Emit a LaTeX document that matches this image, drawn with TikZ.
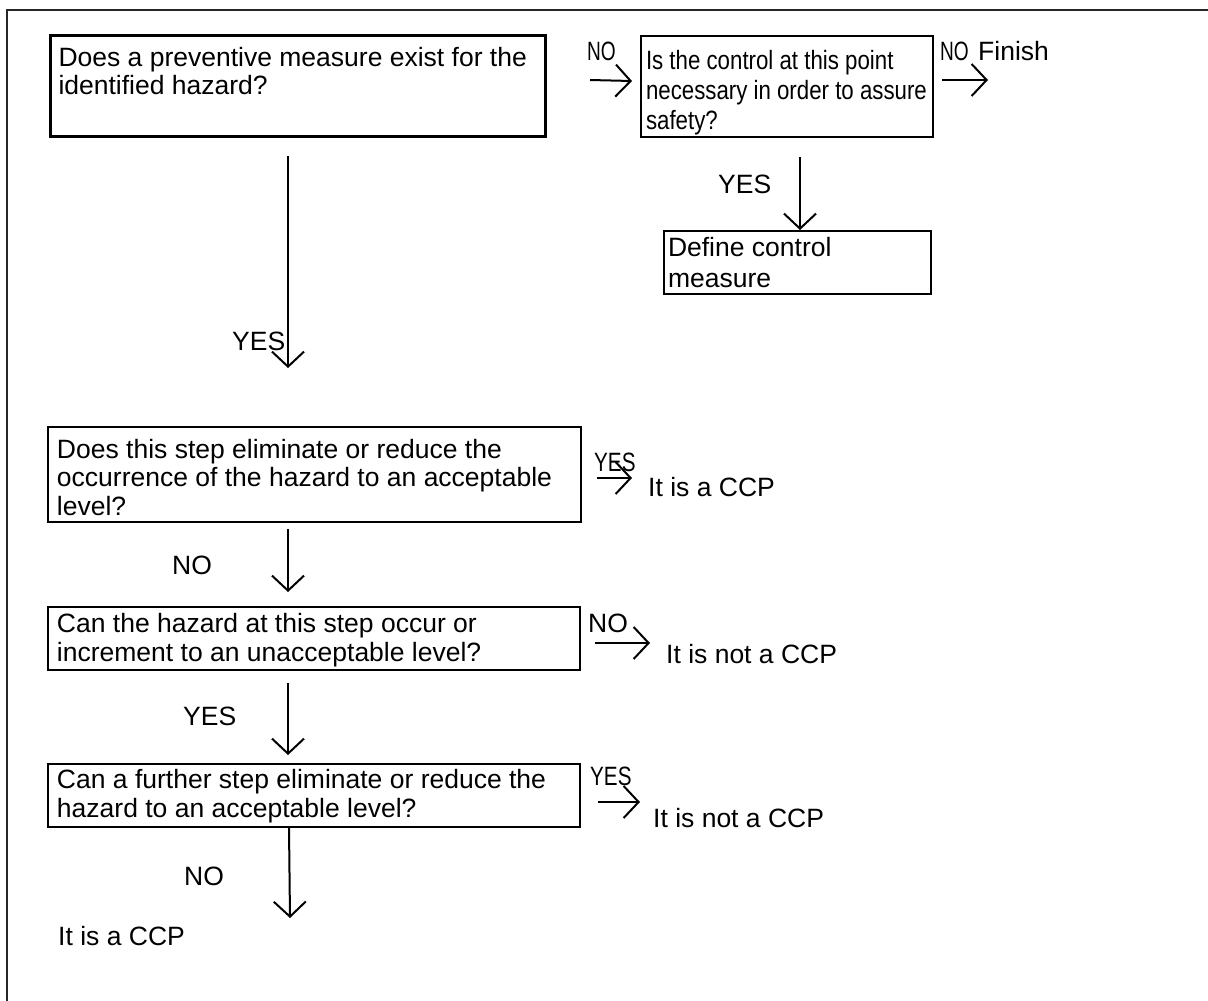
\documentclass[tikz,border=0pt]{standalone}
\usepackage{fontspec}
\setmainfont{Liberation Sans}
\newfontfamily\condfont[FakeStretch=0.84]{Liberation Sans}
\newfontfamily\narrowfont[FakeStretch=0.72]{Liberation Sans}
\newfontfamily\semifont[FakeStretch=0.78]{Liberation Sans}
\usetikzlibrary{arrows.meta,calc}
\newcommand{\boxtxt}[5]{\parbox[c][#2][t]{#1}{\raggedright\leftskip=#3\relax\vspace*{#4}\strut #5}}
\begin{document}
\begin{tikzpicture}[x=1pt,y=-1pt,
  font=\fontsize{26.5}{28.5}\selectfont,
  box/.style={draw, line width=2pt, inner sep=0pt, anchor=north west},
  lbl/.style={inner sep=0pt, anchor=base west},
  arr/.style={line width=2pt, -{Straight Barb[length=15pt,width=32pt,line width=2pt]}}]
\useasboundingbox (0,0) rectangle (1208,1001);
\draw[line width=1.5pt, black!85] (7,1003) -- (7,10) -- (1210,10);

% boxes
\node[box, line width=3pt] (b1) at (49,34) {\boxtxt{495pt}{101pt}{8pt}{11pt}{Does a preventive measure exist for the\\identified hazard?}};
\node[box] (b2) at (640,35) {\boxtxt{292pt}{101pt}{5pt}{14pt}{\condfont\baselineskip=30pt Is the control at this point\\necessary in order to assure\\safety?}};
\node[box] (b6) at (663,230) {\boxtxt{267pt}{63pt}{4pt}{6pt}{\baselineskip=31pt Define control\\measure}};
\node[box] (b3) at (47,426) {\boxtxt{533pt}{95pt}{9pt}{11.5pt}{Does this step eliminate or reduce the\\occurrence of the hazard to an acceptable\\level?}};
\node[box] (b4) at (47,606) {\boxtxt{532pt}{63pt}{9pt}{6pt}{Can the hazard at this step occur or\\increment to an unacceptable level?}};
\node[box] (b5) at (47,763) {\boxtxt{532pt}{63pt}{9pt}{5pt}{\baselineskip=29pt Can a further step eliminate or reduce the\\hazard to an acceptable level?}};

% end texts
\node[lbl] (fin) at (978,60) {Finish};
\node[lbl] (ccp1) at (648,496) {It is a CCP};
\node[lbl] (nccp1) at (666,663) {It is not a CCP};
\node[lbl] (nccp2) at (653,827) {It is not a CCP};
\node[lbl] (ccp2) at (58,945) {It is a CCP};

% labels
\node[lbl] (l1) at (587,60) {\narrowfont NO};
\node[lbl] (l2) at (940,60) {\narrowfont NO};
\node[lbl] (l3) at (232,350) {YES};
\node[lbl] (l4) at (718,193) {YES};
\node[lbl] (l5) at (594,471) {\semifont YES};
\node[lbl] (l6) at (172,574) {NO};
\node[lbl] (l7) at (588,632) {NO};
\node[lbl] (l8) at (183,725) {YES};
\node[lbl] (l9) at (590,785) {\semifont YES};
\node[lbl] (l10) at (184,885) {NO};

% connectors
\draw[arr] ($(b1.north east)+(43,46)$) -- ($(b2.north west)+(-8,46)$);
\draw[arr] ($(b2.north east)+(8,45)$) -- ($(fin.base west)+(10,20)$);
\draw[arr] ($(b1.south west)+(239,18)$) -- ($(b3.north west)+(241,-58)$);
\draw[arr] ($(b2.south west)+(160,19)$) -- ($(b6.north west)+(137,0)$);
\draw[arr] ($(b3.north east)+(15,52)$) -- ($(ccp1.base west)+(-16,-18)$);
\draw[arr] ($(b3.south west)+(241,6)$) -- ($(b4.north west)+(241,-14)$);
\draw[arr] ($(b4.north east)+(14,37)$) -- ($(nccp1.base west)+(-16,-20)$);
\draw[arr] ($(b4.south west)+(241,12)$) -- ($(b5.north west)+(241,-8)$);
\draw[arr] ($(b5.north east)+(17,39)$) -- ($(nccp2.base west)+(-13,-25)$);
\draw[arr] ($(b5.south west)+(242,0)$) -- ($(ccp2.base west)+(232,-27)$);
\end{tikzpicture}
\end{document}
